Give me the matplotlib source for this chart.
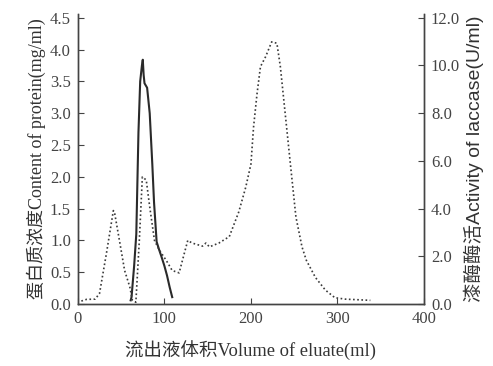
import matplotlib.pyplot as plt

# solid curve, left axis (mg/ml)
protein_x = [61, 62, 65, 67.5, 70, 72, 74, 75, 76, 77, 80, 83, 86, 88, 91, 94, 96.5, 100, 103, 106, 109]
protein_y = [0.06, 0.11, 0.6, 1.1, 2.7, 3.5, 3.75, 3.84, 3.6, 3.47, 3.4, 3.0, 2.2, 1.6, 0.98, 0.85, 0.75, 0.6, 0.45, 0.27, 0.11]

# dotted curve, right axis (U/ml)
laccase_x = [4, 10, 20, 25, 33, 41, 42.5, 48, 54, 60, 63, 67, 71, 74.5, 79, 83, 88.5, 94, 102, 109,
             117, 123, 127, 132, 144, 148, 152, 163, 175, 186, 194, 200, 203, 207, 211, 217, 224,
             230, 234, 240, 246, 252, 259, 264, 274.5, 286, 297, 309, 338]
laccase_y = [0.13, 0.2, 0.21, 0.45, 2.13, 3.92, 3.81, 2.67, 1.41, 0.72, 0.16, 0.08, 2.67, 5.33, 5.2,
             4.08, 2.67, 2.27, 1.84, 1.41, 1.31, 2.13, 2.67, 2.56, 2.43, 2.56, 2.4, 2.56, 2.83, 3.87,
             4.9, 5.87, 7.41, 8.8, 9.95, 10.37, 10.99, 10.93, 9.95, 7.84, 5.73, 3.65, 2.4, 1.84, 1.12,
             0.59, 0.27, 0.21, 0.16]

x_ticks = [0, 100, 200, 300, 400]
left_ticks = [0.0, 0.5, 1.0, 1.5, 2.0, 2.5, 3.0, 3.5, 4.0, 4.5]
right_ticks = [0.0, 2.0, 4.0, 6.0, 8.0, 10.0, 12.0]

serif_cjk = ['Liberation Serif', 'Noto Sans CJK SC']
sans_cjk = ['Liberation Sans', 'Noto Sans CJK SC']

fig = plt.figure(figsize=(4.93, 3.66), dpi=100)
ax = fig.add_axes([0.158, 0.169, 0.702, 0.793])
ax2 = ax.twinx()

ax.plot(protein_x, protein_y, color='#2a2a2a', lw=1.5)
ax2.plot(laccase_x, laccase_y, color='#3a3a3a', lw=1.2, linestyle=(0, (1, 1.5)))

ax.set_xlim(0, 400)
ax.set_ylim(0, 4.56)
ax2.set_ylim(0, 12.16)
ax.set_xticks(x_ticks)
ax.set_yticks(left_ticks)
ax.set_yticklabels([f'{t:.1f}' for t in left_ticks])
ax2.set_yticks(right_ticks)
ax2.set_yticklabels([f'{t:.1f}' for t in right_ticks])

for a in (ax, ax2):
    a.spines['top'].set_visible(False)
    for s in a.spines.values():
        s.set_color('#444444')
        s.set_linewidth(1.0)
    a.tick_params(direction='in', length=4, colors='#444444', labelsize=12, pad=5)
    for lab in a.get_xticklabels() + a.get_yticklabels():
        lab.set_family('Liberation Serif')
        lab.set_color('#444444')

ax.set_xlabel('流出液体积Volume of eluate(ml)', family=serif_cjk, fontsize=13.3, color='#333333', labelpad=9)
ax.set_ylabel('蛋白质浓度Content of protein(mg/ml)', family=serif_cjk, fontsize=13, color='#333333', labelpad=3)
ax2.set_ylabel('漆酶酶活Activity of laccase(U/ml)', family=sans_cjk, fontsize=14, color='#333333', labelpad=3)

fig.savefig('out.png', dpi=100)
